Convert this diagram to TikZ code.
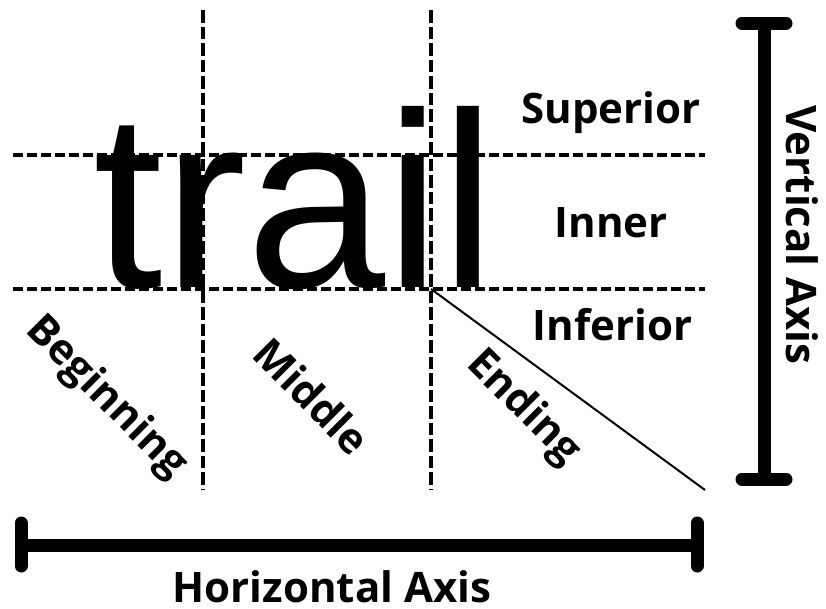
\documentclass[tikz,border=0pt]{standalone}
\usepackage{fontspec}
\setmainfont{Open Sans}
\newfontfamily\trailfont{Liberation Sans}
\begin{document}
\begin{tikzpicture}[x=1pt,y=-1pt,
  hguide/.style={line width=3.5pt, dash pattern=on 10pt off 4pt},
  vguide/.style={line width=3.5pt, dash pattern=on 12.5pt off 4pt},
  axisbar/.style={line width=13pt, line cap=round},
  lab/.style={font=\bfseries\fontsize{42}{44}\selectfont, inner sep=0pt},
  axlab/.style={font=\bfseries\fontsize{42}{44}\selectfont, inner sep=0pt},
  partlab/.style={font=\bfseries\fontsize{42}{44}\selectfont, inner sep=0pt, rotate=-45}]
\useasboundingbox (0,0) rectangle (826,608);
% big word
\node[inner sep=0pt, anchor=base west, font=\trailfont\fontsize{250}{250}\selectfont] (trail) at (93.5,287) {trail};
% guide coordinates
\coordinate (v1t) at (203,10);  \coordinate (v1b) at (203,490);
\coordinate (v2t) at (431,10);  \coordinate (v2b) at (431,490);
\coordinate (h1l) at (13,155);  \coordinate (h1r) at (705,155);
\coordinate (h2l) at (13,289);  \coordinate (h2r) at (705,289);
\coordinate (dgs) at (431,289); \coordinate (dge) at (705,490);
\draw[vguide] (v1t) -- (v1b);
\draw[vguide] (v2t) -- (v2b);
\draw[hguide] (h1l) -- (h1r);
\draw[hguide] (h2l) -- (h2r);
\draw[line width=2pt] (dgs) -- (dge);
% horizontal axis
\coordinate (hal) at (21,545); \coordinate (har) at (697,545);
\coordinate (hal1) at (21,523); \coordinate (hal2) at (21,566);
\coordinate (har1) at (697,523); \coordinate (har2) at (697,566);
\draw[line width=13pt] (hal) -- (har);
\draw[axisbar] (hal1) -- (hal2);
\draw[axisbar] (har1) -- (har2);
% vertical axis
\coordinate (vat) at (764,23); \coordinate (vab) at (764,479);
\coordinate (vat1) at (742,23); \coordinate (vat2) at (786,23);
\coordinate (vab1) at (742,479); \coordinate (vab2) at (786,479);
\draw[line width=13pt] (vat) -- (vab);
\draw[axisbar] (vat1) -- (vat2);
\draw[axisbar] (vab1) -- (vab2);
% labels
\node[lab, anchor=base] (sup) at (611,123) {Superior};
\node[lab, anchor=base] (inn) at (611,237) {Inner};
\node[lab, anchor=base] (inf) at (612.5,340) {Inferior};
\node[axlab, anchor=base] (hax) at (332,602) {Horizontal Axis};
\node[axlab, anchor=base, rotate=-90] (vax) at (786,235) {Vertical Axis};
\node[partlab] (beg) at (106,398) {Beginning};
\node[partlab] (mid) at (312,396) {Middle};
\node[partlab] (end) at (523,408) {Ending};
\end{tikzpicture}
\end{document}
